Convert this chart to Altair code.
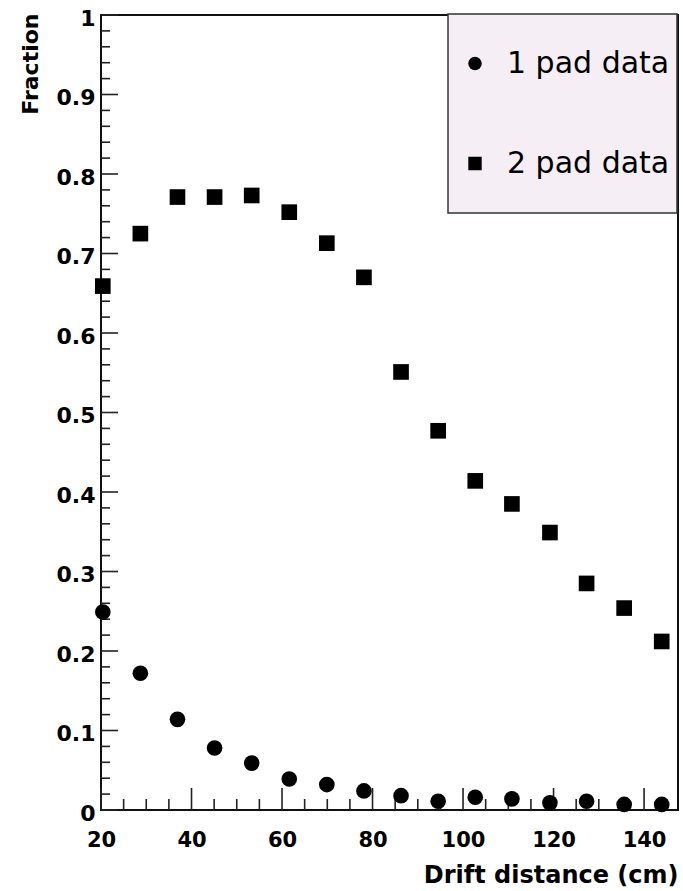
import altair as alt
import pandas as pd

# ---- data ----
drift_cm = [20.4, 28.7, 36.9, 45.1, 53.3, 61.6, 69.9, 78.1,
            86.3, 94.5, 102.7, 110.8, 119.2, 127.3, 135.6, 143.9]
one_pad = [0.249, 0.172, 0.114, 0.078, 0.059, 0.039, 0.032, 0.024,
           0.018, 0.011, 0.016, 0.014, 0.009, 0.011, 0.007, 0.007]
two_pad = [0.659, 0.725, 0.771, 0.771, 0.773, 0.752, 0.713, 0.670,
           0.551, 0.477, 0.414, 0.385, 0.349, 0.285, 0.254, 0.212]
series_names = ["1 pad data", "2 pad data"]

# ---- tick positions ----
x_major = [20, 40, 60, 80, 100, 120, 140]
x_minor = [25, 30, 35, 45, 50, 55, 65, 70, 75, 85, 90, 95,
           105, 110, 115, 125, 130, 135, 145]
y_major = [0, 0.1, 0.2, 0.3, 0.4, 0.5, 0.6, 0.7, 0.8, 0.9, 1.0]
y_minor = [0.02, 0.04, 0.06, 0.08, 0.12, 0.14, 0.16, 0.18,
           0.22, 0.24, 0.26, 0.28, 0.32, 0.34, 0.36, 0.38,
           0.42, 0.44, 0.46, 0.48, 0.52, 0.54, 0.56, 0.58,
           0.62, 0.64, 0.66, 0.68, 0.72, 0.74, 0.76, 0.78,
           0.82, 0.84, 0.86, 0.88, 0.92, 0.94, 0.96, 0.98]

df = pd.DataFrame({
    "drift": drift_cm + drift_cm,
    "fraction": one_pad + two_pad,
    "series": [series_names[0]] * len(drift_cm) + [series_names[1]] * len(drift_cm),
})

W, H = 577, 795
XT = "Drift distance (cm)"
YT = "Fraction"
xscale = alt.Scale(domain=[20, 147.5], nice=False, zero=False)
yscale = alt.Scale(domain=[0, 1], nice=False, zero=False)

x_axis = alt.Axis(values=x_major, format="d", labelFontSize=21, labelPadding=19,
                  labelFlush=False, labelOverlap=False,
                  titleFontSize=24, titleAnchor="end", titleAlign="right",
                  titleX=W, titleY=72, titleBaseline="alphabetic")
y_axis = alt.Axis(values=y_major, format="~g", labelFontSize=22, labelPadding=6,
                  labelOffset=3, labelFlush=False, labelOverlap=False,
                  titleFontSize=22, titleAngle=270, titleAlign="right",
                  titleX=-64, titleY=-2, titleBaseline="alphabetic")

points = alt.Chart(df).mark_point(filled=True, opacity=1, color="black",
                                  strokeWidth=0, size=245).encode(
    x=alt.X("drift:Q", scale=xscale, axis=x_axis, title=XT),
    y=alt.Y("fraction:Q", scale=yscale, axis=y_axis, title=YT),
    shape=alt.Shape("series:N",
                    scale=alt.Scale(domain=series_names, range=["circle", "square"]),
                    legend=alt.Legend(title=None, orient="none", legendX=347, legendY=-1,
                                      fillColor="#f5eef5", strokeColor="#333333",
                                      padding=7, rowPadding=15, clipHeight=85,
                                      labelFont="DejaVu Sans", labelFontSize=30,
                                      labelFontWeight="normal", labelColor="black",
                                      labelLimit=400, labelOffset=17,
                                      symbolSize=180, symbolOffset=5,
                                      symbolFillColor="black", symbolStrokeWidth=0,
                                      symbolOpacity=1)),
)

tick_color = "#222222"

xmaj = alt.Chart(pd.DataFrame({"v": x_major})).mark_rule(color=tick_color, strokeWidth=1.6).encode(
    x=alt.X("v:Q", scale=xscale, title=XT), y=alt.value(H), y2=alt.value(H - 22))
xmin = alt.Chart(pd.DataFrame({"v": x_minor})).mark_rule(color=tick_color, strokeWidth=1.6).encode(
    x=alt.X("v:Q", scale=xscale, title=XT), y=alt.value(H), y2=alt.value(H - 11))
ymaj = alt.Chart(pd.DataFrame({"v": y_major})).mark_rule(color=tick_color, strokeWidth=1.6).encode(
    y=alt.Y("v:Q", scale=yscale, title=YT), x=alt.value(0), x2=alt.value(17))
ymin = alt.Chart(pd.DataFrame({"v": y_minor})).mark_rule(color=tick_color, strokeWidth=1.6).encode(
    y=alt.Y("v:Q", scale=yscale, title=YT), x=alt.value(0), x2=alt.value(9))

chart = alt.layer(xmin, xmaj, ymin, ymaj, points).properties(
    width=W, height=H,
    autosize=alt.AutoSizeParams(type="none"),
    padding={"left": 101, "top": 15, "right": 5, "bottom": 81},
    background="white",
).configure_view(
    stroke="#111111", strokeWidth=2
).configure_axis(
    domain=False, ticks=False, grid=False,
    labelFont="DejaVu Sans", labelFontWeight="bold", labelColor="black",
    titleFont="DejaVu Sans", titleFontWeight="bold", titleColor="black",
).configure_legend(
    strokeWidth=1.5
)

chart.save("out.html", embed_options={"renderer": "svg", "actions": False})
